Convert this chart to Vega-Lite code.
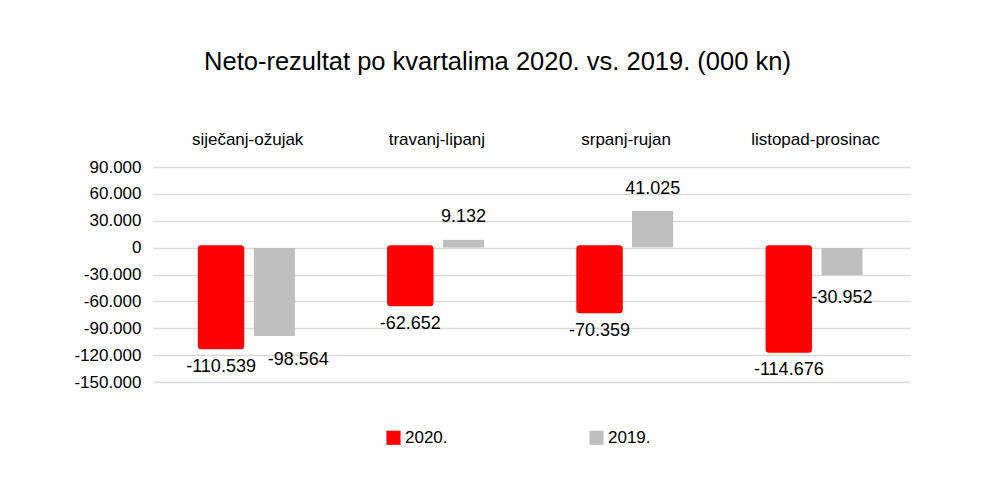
{
  "$schema": "https://vega.github.io/schema/vega-lite/v6.json",
  "autosize": "none",
  "width": 757,
  "height": 215,
  "padding": {"left": 153, "top": 167, "right": 78, "bottom": 97},
  "background": "white",
  "config": {
    "locale": {"number": {"decimal": ",", "thousands": ".", "grouping": [3], "currency": ["", ""], "minus": "-"}},
    "font": "Liberation Sans",
    "view": {"stroke": null}
  },
  "title": {
    "text": "Neto-rezultat po kvartalima 2020. vs. 2019. (000 kn)",
    "fontSize": 25.5,
    "fontWeight": "normal",
    "font": "Liberation Sans",
    "color": "#000000",
    "anchor": "middle",
    "dx": -34,
    "offset": 55
  },
  "data": {
    "values": [
      {"kvartal": "siječanj-ožujak", "godina": "2020.", "vrijednost": -110539},
      {"kvartal": "siječanj-ožujak", "godina": "2019.", "vrijednost": -98564},
      {"kvartal": "travanj-lipanj", "godina": "2020.", "vrijednost": -62652},
      {"kvartal": "travanj-lipanj", "godina": "2019.", "vrijednost": 9132},
      {"kvartal": "srpanj-rujan", "godina": "2020.", "vrijednost": -70359},
      {"kvartal": "srpanj-rujan", "godina": "2019.", "vrijednost": 41025},
      {"kvartal": "listopad-prosinac", "godina": "2020.", "vrijednost": -114676},
      {"kvartal": "listopad-prosinac", "godina": "2019.", "vrijednost": -30952}
    ]
  },
  "encoding": {
    "x": {
      "field": "kvartal", "type": "nominal", "sort": null, "title": null,
      "scale": {"paddingInner": 0.5, "paddingOuter": 0.25},
      "axis": {"orient": "top", "labelAngle": 0, "labelFontSize": 17, "labelColor": "#000000", "labelPadding": 19, "ticks": false, "domain": false}
    },
    "xOffset": {
      "field": "godina", "type": "nominal", "sort": ["2020.", "2019."],
      "scale": {"paddingInner": 0.22, "paddingOuter": 0}
    },
    "y": {
      "field": "vrijednost", "type": "quantitative", "title": null,
      "scale": {"domain": [-150000, 90000], "nice": false, "zero": true},
      "axis": {
        "values": [-150000, -120000, -90000, -60000, -30000, 0, 30000, 60000, 90000],
        "format": ",d",
        "labelFontSize": 17, "labelColor": "#000000", "labelPadding": 12,
        "ticks": false, "domain": false,
        "gridColor": "#d9d9d9", "gridWidth": 1.5
      }
    }
  },
  "layer": [
    {
      "mark": {"type": "bar", "cornerRadius": 1, "stroke": "#ff0000", "strokeJoin": "round"},
      "encoding": {
        "strokeWidth": {"condition": {"test": "datum.godina === '2020.'", "value": 5}, "value": 0},
        "color": {
          "field": "godina", "type": "nominal", "sort": ["2020.", "2019."], "title": null,
          "scale": {"domain": ["2020.", "2019."], "range": ["#ff0000", "#bfbfbf"]},
          "legend": {
            "orient": "none", "legendX": 232, "legendY": 262,
            "direction": "horizontal", "symbolType": "square", "symbolSize": 200,
            "symbolStrokeWidth": 0,
            "labelFontSize": 17, "labelColor": "#000000", "columnPadding": 140,
            "labelOffset": 3
          }
        }
      }
    },
    {
      "transform": [{"filter": "datum.vrijednost < 0 && datum.godina === '2020.'"}],
      "mark": {"type": "text", "baseline": "top", "dy": 11, "fontSize": 18, "color": "#000000"},
      "encoding": {"text": {"field": "vrijednost", "type": "quantitative", "format": ",d"}}
    },
    {
      "transform": [{"filter": "datum.vrijednost < 0 && datum.godina === '2019.' && datum.kvartal !== 'siječanj-ožujak'"}],
      "mark": {"type": "text", "baseline": "top", "dy": 14, "fontSize": 18, "color": "#000000"},
      "encoding": {"text": {"field": "vrijednost", "type": "quantitative", "format": ",d"}}
    },
    {
      "transform": [{"filter": "datum.vrijednost < 0 && datum.godina === '2019.' && datum.kvartal === 'siječanj-ožujak'"}],
      "mark": {"type": "text", "baseline": "top", "dy": 15, "dx": 24, "fontSize": 18, "color": "#000000"},
      "encoding": {"text": {"field": "vrijednost", "type": "quantitative", "format": ",d"}}
    },
    {
      "transform": [{"filter": "datum.vrijednost >= 0"}],
      "mark": {"type": "text", "baseline": "bottom", "dy": -13, "fontSize": 18, "color": "#000000"},
      "encoding": {"text": {"field": "vrijednost", "type": "quantitative", "format": ",d"}}
    }
  ]
}
